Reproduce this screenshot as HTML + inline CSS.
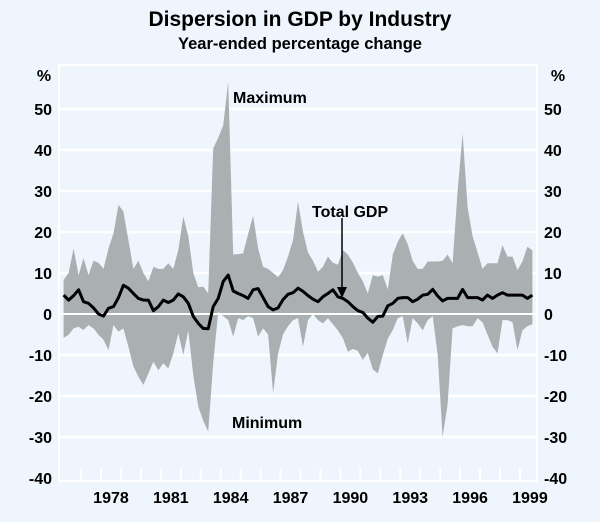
<!DOCTYPE html>
<html><head><meta charset="utf-8"><style>
body{margin:0;background:#eef5fc;}
svg{display:block;font-family:"Liberation Sans",Arial,sans-serif;font-weight:bold;}
</style></head><body>
<svg width="600" height="522" viewBox="0 0 600 522">
<rect x="0" y="0" width="600" height="522" fill="#eef5fc"/>
<text x="300" y="26" text-anchor="middle" font-size="21" fill="#000">Dispersion in GDP by Industry</text>
<text x="300" y="49" text-anchor="middle" font-size="16.5" fill="#000">Year-ended percentage change</text>
<g id="plot"></g>
</svg>
<script>
const yTicks=[50,40,30,20,10,0,-10,-20,-30,-40];
const yearLabels=[1978,1981,1984,1987,1990,1993,1996,1999];
const startYear=1976;
const maxVals=[8.3,10,16,9.5,13.6,9.5,13,12.5,11,16,19.7,26.6,25,18,11,13,10,8,11.5,11,11,12.4,11,15.6,23.7,19,10,6.5,6.7,5,40.4,43,46,56.7,14.5,14.6,14.8,19.5,24,16,11.5,11,10,9,10.7,14,18,27.4,20,15,13,10.3,11.5,14,12.5,12,15.6,14.5,12.5,10,8,5,9.5,9.1,9.5,6,14.5,17.6,19.7,17,13,11,11,12.8,12.8,12.8,13,14.5,12.4,30,44,26,19,15,11,12.4,12.4,12.4,16.8,14,14,10.7,12.8,16.4,15.5];
const minVals=[-5.8,-5.1,-3.5,-3.1,-3.9,-2.7,-3.5,-5.1,-6.3,-8.8,-2.7,-4.3,-3.5,-8,-12.8,-15.3,-17.3,-14.5,-11.6,-13.7,-12,-13.3,-9.6,-4.7,-10,-4,-15,-22.6,-26,-28.7,-12,0.5,-0.5,-1.5,-5.5,-1,-1.5,-0.5,-1,-5.5,-3.5,-5,-19.3,-9.6,-5,-3,-1.5,-1,-8,-1.5,0,-1.5,-2.3,-1,-2.5,-4,-5.9,-9.2,-8.5,-9,-11.2,-9.5,-13.5,-14.5,-10,-6,-3.9,-1,-0.5,-7.2,-1,-2.3,-4,-1.5,-0.5,-10,-30,-22,-3.5,-3,-2.7,-3,-3,-1,-2,-5,-8,-9.6,-1.5,-1.5,-2,-8.8,-4,-3,-2.5];
const gdpVals=[4.6,3.4,4.5,5.9,3,2.6,1.5,0,-0.5,1.4,1.8,4,7,6.3,5,3.8,3.4,3.4,0.8,1.8,3.4,2.8,3.4,4.9,4.2,2.6,-0.6,-2.3,-3.5,-3.6,1.8,3.8,7.9,9.5,5.6,5,4.5,3.8,5.9,6.2,4,1.8,1,1.5,3.5,4.8,5.2,6.3,5.5,4.5,3.6,3,4.2,5,5.9,4.2,3.8,3,1.8,0.8,0.4,-1,-2,-0.6,-0.5,2,2.6,3.8,4,4,3,3.6,4.6,4.8,6,4.4,3.2,3.8,3.8,3.8,6,4,4,4,3.4,4.6,3.8,4.6,5.2,4.6,4.6,4.6,4.6,3.8,4.6];

const NS="http://www.w3.org/2000/svg";
const plot=document.getElementById('plot');
const L=59,R=537,T=65,B=481;
function yS(v){return 314-4.1*v;}
function xS(t){return 101+(t-1978)*19.95;}
function xI(i){return xS(startYear+i/4+0.125);}
function mk(tag,attrs){const e=document.createElementNS(NS,tag);for(const k in attrs)e.setAttribute(k,attrs[k]);plot.appendChild(e);return e;}

let e;
// plot frame
e=mk('rect',{x:L,y:T,width:R-L,height:B-T,fill:'#eef5fc',stroke:'#ffffff','stroke-width':2});


// gridlines
yTicks.forEach(v=>{
  if(v===0||v===-40) return;
  const g=mk('line',{x1:L,x2:R,y1:yS(v),y2:yS(v),stroke:'#ffffff','stroke-width':2.5});
  
  
});
// band
let d='';
maxVals.forEach((v,i)=>{d+=(i?'L':'M')+xI(i).toFixed(1)+','+yS(v).toFixed(1);});
for(let i=minVals.length-1;i>=0;i--){d+='L'+xI(i).toFixed(1)+','+yS(minVals[i]).toFixed(1);}
d+='Z';
e=mk('path',{d:d,fill:'#aaafb2',stroke:'none'});


// zero line
e=mk('line',{x1:L,x2:R,y1:yS(0),y2:yS(0),stroke:'#ffffff','stroke-width':2});


// gdp line
let p='';
gdpVals.forEach((v,i)=>{p+=(i?'L':'M')+xI(i).toFixed(1)+','+yS(v).toFixed(1);});
e=mk('path',{d:p,fill:'none',stroke:'#000','stroke-width':3,'stroke-linejoin':'round'});


// year ticks
for(let y=startYear+1;y<=2000;y++){
  const x=xS(y);
  if(x>R-1) continue;
  const t=mk('line',{x1:x,x2:x,y1:B-13,y2:B,stroke:'#ffffff','stroke-width':2});
  
  
}
// y labels
yTicks.forEach(v=>{
  const a=mk('text',{x:52,y:yS(v)+6,'text-anchor':'end','font-size':16,fill:'#000'});
  a.textContent=v;
  
  
  const b=mk('text',{x:544,y:yS(v)+6,'text-anchor':'start','font-size':16,fill:'#000'});
  b.textContent=v;
  
  
});
yearLabels.forEach(y=>{
  const a=mk('text',{x:xS(y+0.5),y:503,'text-anchor':'middle','font-size':16,fill:'#000'});
  a.textContent=y;
  
  
});
// units
e=mk('text',{x:44,y:81,'text-anchor':'middle','font-size':16,fill:'#000'});e.textContent='%';


e=mk('text',{x:558,y:81,'text-anchor':'middle','font-size':16,fill:'#000'});e.textContent='%';


// annotations
e=mk('text',{x:233,y:103,'font-size':16,fill:'#000'});e.textContent='Maximum';


e=mk('text',{x:232,y:428,'font-size':16,fill:'#000'});e.textContent='Minimum';


e=mk('text',{x:312,y:217,'font-size':16,fill:'#000'});e.textContent='Total GDP';


e=mk('line',{x1:342,x2:342,y1:218,y2:290,stroke:'#000','stroke-width':1.5});


e=mk('path',{d:'M337,287 L347,287 L342,298 Z',fill:'#000'});


</script>
</body></html>
